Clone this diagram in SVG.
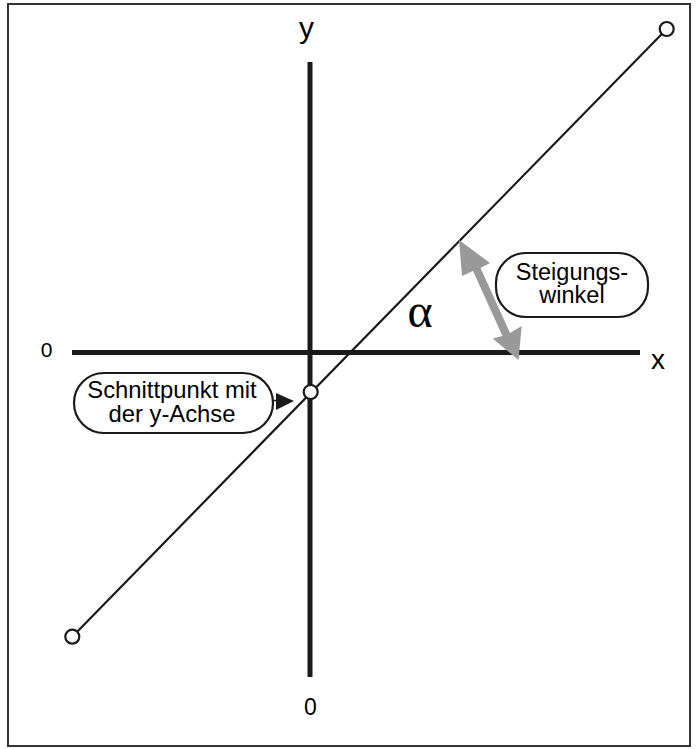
<svg xmlns="http://www.w3.org/2000/svg" width="697" height="749" viewBox="0 0 697 749">
<style>
.t{font-family:"Liberation Sans",Arial,sans-serif;fill:#000;text-anchor:middle}
.ax{stroke:#1a1a1a;stroke-width:5;fill:none}
.ln{stroke:#1a1a1a;stroke-width:2.2;fill:none}
.pt{fill:#fff;stroke:#1a1a1a;stroke-width:2.2}
.box{fill:#fff;stroke:#1a1a1a;stroke-width:2.2}
</style>
<rect x="0" y="0" width="697" height="749" fill="#fff"/>
<rect id="frame" x="8" y="4" width="682" height="742" fill="none" stroke="#333" stroke-width="2"/>
<g id="axes">
<line class="ax" x1="310" y1="62" x2="310" y2="677"/>
<line class="ax" x1="72" y1="352.5" x2="640" y2="352.5"/>
</g>
<g id="connectors">
<line class="ln" x1="72.3" y1="636.7" x2="666.7" y2="29"/>
<line x1="252" y1="400.5" x2="278" y2="400.5" stroke="#1a1a1a" stroke-width="1.5"/>
<polygon points="276,393 294,401 276,410" fill="#1a1a1a"/>
<polygon id="angle-arrow" fill="#999" points="459,240 490,263 480.5,268 510,333 521.7,326 518.5,360 492.7,338.5 502.5,336 473,271 462,276"/>
</g>
<g id="pt-bottom"><circle class="pt" cx="72.3" cy="636.7" r="7"/></g>
<g id="pt-top"><circle class="pt" cx="666.7" cy="29" r="7"/></g>
<g id="pt-intercept"><circle class="pt" cx="310.7" cy="392" r="7"/></g>
<g id="label-y"><text class="t" x="306.5" y="38" font-size="30">y</text></g>
<g id="label-x"><text class="t" x="658" y="369" font-size="28">x</text></g>
<g id="label-0-left"><text class="t" x="46.7" y="357" font-size="21">0</text></g>
<g id="label-0-bottom"><text class="t" x="310.5" y="715" font-size="23">0</text></g>
<g id="label-alpha"><text x="420" y="327" font-size="48" font-family="'Liberation Serif','Times New Roman',serif" text-anchor="middle">α</text></g>
<g id="callout-intercept">
<rect class="box" x="74" y="373" width="199" height="60" rx="30" ry="30"/>
<text class="t" x="172" y="398" font-size="23.8">Schnittpunkt mit</text>
<text class="t" x="172" y="422" font-size="23.8">der y-Achse</text>
</g>
<g id="callout-angle">
<rect class="box" x="496" y="253" width="152" height="64" rx="30" ry="30"/>
<text class="t" x="572" y="280" font-size="23.5">Steigungs-</text>
<text class="t" x="572" y="303" font-size="23.5">winkel</text>
</g>
</svg>
